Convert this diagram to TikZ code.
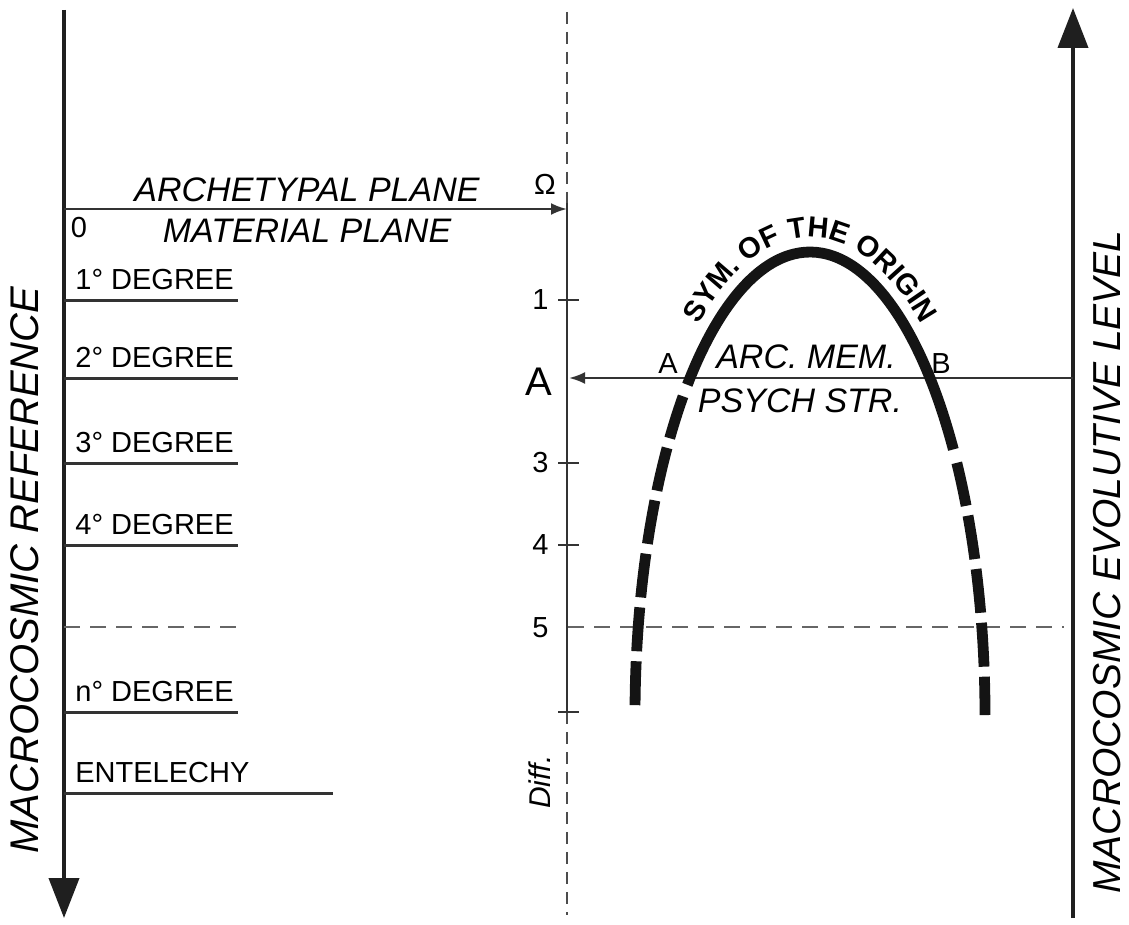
\documentclass[tikz,border=0pt]{standalone}
\usepackage{fontspec}
\setmainfont{Liberation Sans}
\usetikzlibrary{arrows.meta,positioning,calc,decorations.text}

\tikzset{
  axisline/.style={line width=2pt, draw=black!88},
  thinline/.style={line width=1.2pt, draw=black!80},
  degline/.style={line width=1.5pt, draw=black!80},
  dashline/.style={line width=1.3pt, draw=black!60, dash pattern=on 8pt off 5pt},
  middash/.style={line width=1pt, draw=black!70, dash pattern=on 6pt off 4pt},
  archline/.style={line width=5.4pt, draw=black!92},
  lbl/.style={font=\fontsize{14.5}{16}\selectfont, inner sep=0pt},
  plane/.style={font=\fontsize{17}{20}\selectfont\itshape, inner sep=0pt},
  sidelbl/.style={font=\fontsize{20}{24}\selectfont\itshape, rotate=90, inner sep=0pt},
  bigtip/.style={-{Triangle[length=20pt,width=15pt]}},
  smalltip/.style={-{Latex[length=8pt,width=6pt]}}
}

\begin{document}
\begin{tikzpicture}[x=0.5pt,y=0.5pt]
\useasboundingbox (0,0) rectangle (1129,-925);

% the two main axes
\coordinate (Ltop) at (64,-10);
\coordinate (Lbot) at (64,-918);
\coordinate (Rbot) at (1073,-918);
\coordinate (Rtop) at (1073,-8);
\draw[axisline,bigtip] (Ltop) -- (Lbot);
\draw[axisline,bigtip] (Rbot) -- (Rtop);
\node[sidelbl] (leftlbl) at (25,-570) {MACROCOSMIC REFERENCE};
\node[sidelbl,font=\fontsize{19.5}{24}\selectfont\itshape] (rightlbl) at (1107,-562) {MACROCOSMIC EVOLUTIVE LEVEL};

% middle scale
\coordinate (Mtop) at (567,-12);
\coordinate (omega) at (567,-203);
\coordinate (Mdiff) at (567,-712);
\coordinate (Mbot) at (567,-915);
\draw[middash] (Mtop) -- (omega);
\draw[thinline] (omega) -- (Mdiff);
\draw[middash] (Mdiff) -- (Mbot);

% archetypal / material plane
\coordinate (zero) at (64,-209);
\coordinate (omegatip) at (567,-209);
\draw[thinline,smalltip] (zero) -- (omegatip);
\node[plane] (arche) at (307,-190) {ARCHETYPAL PLANE};
\node[plane] (mater) at (307,-231) {MATERIAL PLANE};
\node[lbl] (zerolbl) at (79,-228) {0};
\node[lbl] (omegalbl) at (545,-184) {Ω};

% degrees on the left
\foreach \i/\y/\txt/\xe in {1/300/{1° DEGREE}/238, 2/378/{2° DEGREE}/238,
    3/463/{3° DEGREE}/238, 4/545/{4° DEGREE}/238,
    n/712/{n° DEGREE}/238, e/793/ENTELECHY/333}
{
  \coordinate (deg\i) at (64,-\y);
  \coordinate (deg\i end) at (\xe,-\y);
  \draw[degline] (deg\i) -- (deg\i end);
  \node[lbl,anchor=base west] (deg\i lbl) at (75,-\y+11) {\txt};
}
\coordinate (dash5L) at (64,-627);
\coordinate (dash5Lend) at (240,-627);
\draw[dashline] (dash5L) -- (dash5Lend);

% ticks of the middle scale
\foreach \n/\y in {1/300,3/463,4/545}
{
  \coordinate (tk\n a) at (558,-\y);
  \coordinate (tk\n b) at (579,-\y);
  \draw[thinline] (tk\n a) -- (tk\n b);
  \node[lbl,anchor=east] (num\n) at (549,-\y) {\n};
}
\coordinate (tkDa) at (558,-712);
\coordinate (tkDb) at (579,-712);
\draw[thinline] (tkDa) -- (tkDb);
\node[lbl,anchor=east] (num5) at (549,-628) {5};
\node[lbl,font=\fontsize{20}{24}\selectfont,anchor=east] (numA) at (553,-382) {A};
\node[lbl,font=\fontsize{15}{16}\selectfont\itshape,rotate=90] (diff) at (540,-782) {Diff.};

% level A and level 5
\coordinate (Aright) at (1073,-378);
\coordinate (Aleft) at (569,-378);
\draw[thinline,smalltip] (Aright) -- (Aleft);
\coordinate (dash5M) at (568,-627);
\coordinate (dash5R) at (1064,-627);
\draw[dashline] (dash5M) -- (dash5R);

% the arch
\coordinate (ctr) at (810,-715);
\draw[archline] (ctr) ++(134.5:175 and 463) arc[start angle=134.5, end angle=35, x radius=175, y radius=463];
\draw[archline,dash pattern=on 22pt off 5pt] (ctr) ++(136.5:175 and 463) arc[start angle=136.5, end angle=180, x radius=175, y radius=463];
\draw[archline,dash pattern=on 22pt off 5pt] (ctr) ++(33:175 and 463) arc[start angle=33, end angle=0, x radius=175, y radius=463];
\path[decorate,decoration={text along path,text align=center,
  text={|\fontsize{14.5}{18}\selectfont\bfseries|SYM. OF THE ORIGIN}}]
  (ctr) ++(132:194 and 478) arc[start angle=132, end angle=48, x radius=194, y radius=478];

\node[lbl] (ptA) at (668,-364) {A};
\node[lbl] (ptB) at (941,-364) {B};
\node[plane] (arcmem) at (806,-357) {ARC. MEM.};
\node[plane] (psych) at (800,-401) {PSYCH STR.};
\end{tikzpicture}
\end{document}
